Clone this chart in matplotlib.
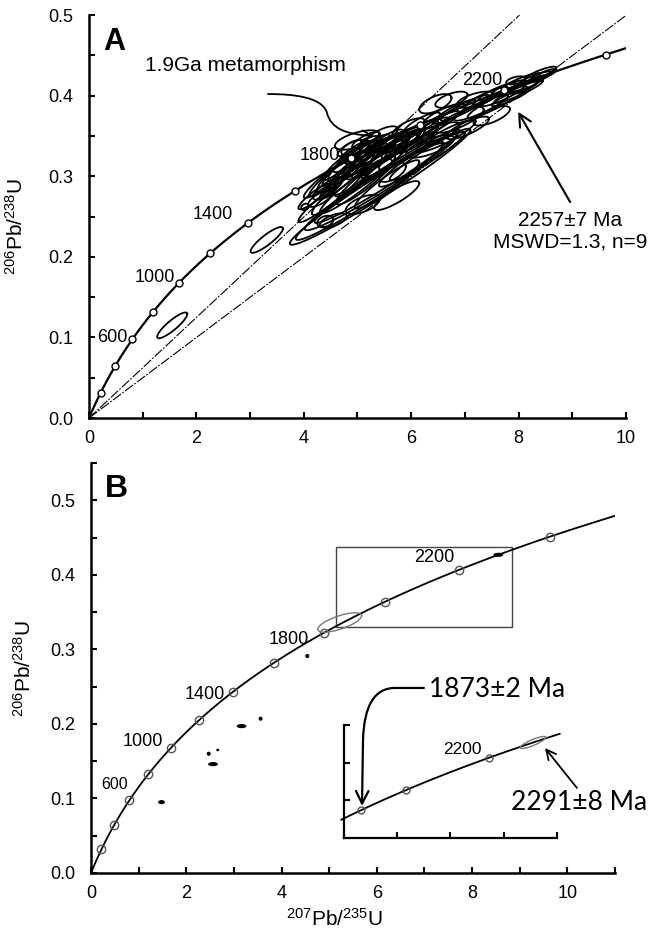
import numpy as np
import matplotlib
matplotlib.use("Agg")
import matplotlib.pyplot as plt
from matplotlib.path import Path
from matplotlib.patches import FancyArrowPatch, Rectangle
from matplotlib.ticker import MultipleLocator, FormatStrFormatter

plt.rcParams["font.family"] = ["Liberation Sans", "DejaVu Sans"]
plt.rcParams["mathtext.default"] = "regular"

# decay constants (per Ma)
L238 = 1.55125e-4
L235 = 9.8485e-4

# ---------------- data ----------------
# concordia age marks (Ma)
marker_ages = [200, 400, 600, 800, 1000, 1200, 1400, 1600, 1800, 2000, 2200, 2400]
label_ages = [600, 1000, 1400, 1800, 2200]
# discordia upper intercepts drawn through the origin (Ma)
discordia_ages = [1900, 2290]

# panel A zircon analyses: 207Pb/235U, +-, 206Pb/238U, +-, rho
a_x = [1.55, 3.31, 5.42, 5.35, 5.31, 5.55, 4.55, 4.40, 4.02, 5.10,
       5.73, 5.00, 4.60, 4.75, 4.90, 5.05, 5.20, 5.35, 5.50, 5.15,
       4.85, 4.45, 4.70, 5.60, 5.80, 5.45, 5.90, 6.05, 6.35, 6.20,
       6.45, 6.60, 6.90, 7.20, 7.50, 7.30, 7.70, 7.95, 8.40, 8.00,
       7.85, 8.20, 8.10, 6.75, 6.00, 6.30, 5.40, 5.25, 4.95, 5.65,
       5.95, 6.55, 4.30, 5.55, 7.05, 6.65, 8.45, 7.60,
       4.55, 4.70, 4.80, 4.95, 5.05, 5.10, 5.25, 5.30, 5.45, 5.60,
       5.70, 5.85, 4.40, 4.95, 5.15, 4.85, 5.55, 6.10, 6.25, 6.50,
       6.80, 7.00, 7.40, 7.60, 7.80, 8.05, 8.30, 4.20, 4.50, 5.00]
a_sx = [0.28, 0.30, 1.68, 1.50, 1.29, 1.35, 0.25, 0.15, 0.07, 0.32,
        0.42, 0.42, 0.35, 0.40, 0.45, 0.50, 0.35, 0.40, 0.45, 0.55,
        0.30, 0.28, 0.55, 0.38, 0.40, 0.30, 0.50, 0.45, 0.45, 0.35,
        0.30, 0.40, 0.45, 0.35, 0.34, 0.50, 0.40, 0.18, 0.30, 0.45,
        0.35, 0.30, 0.25, 0.30, 0.60, 0.70, 0.25, 0.20, 0.25, 0.25,
        0.30, 0.35, 0.22, 0.60, 0.40, 0.55, 0.25, 0.55,
        0.45, 0.35, 0.50, 0.40, 0.35, 0.60, 0.45, 0.30, 0.55, 0.35,
        0.50, 0.40, 0.40, 0.30, 0.25, 0.22, 0.30, 0.40, 0.45, 0.40,
        0.40, 0.45, 0.40, 0.35, 0.30, 0.35, 0.30, 0.30, 0.60, 0.70]
a_y = [0.115, 0.221, 0.287, 0.287, 0.287, 0.300, 0.245, 0.244, 0.262, 0.265,
       0.276, 0.345, 0.300, 0.310, 0.318, 0.305, 0.325, 0.332, 0.320, 0.295,
       0.290, 0.285, 0.282, 0.340, 0.345, 0.350, 0.330, 0.352, 0.337, 0.365,
       0.390, 0.375, 0.370, 0.395, 0.375, 0.385, 0.400, 0.419, 0.427, 0.405,
       0.398, 0.415, 0.410, 0.395, 0.315, 0.325, 0.310, 0.340, 0.335, 0.305,
       0.360, 0.355, 0.272, 0.290, 0.360, 0.350, 0.425, 0.392,
       0.300, 0.315, 0.300, 0.325, 0.315, 0.320, 0.318, 0.338, 0.325, 0.330,
       0.335, 0.340, 0.295, 0.330, 0.345, 0.335, 0.345, 0.345, 0.355, 0.365,
       0.380, 0.385, 0.398, 0.405, 0.410, 0.418, 0.422, 0.275, 0.275, 0.290]
a_sy = [0.016, 0.016, 0.072, 0.066, 0.054, 0.058, 0.009, 0.007, 0.004, 0.012,
        0.018, 0.012, 0.020, 0.022, 0.024, 0.028, 0.016, 0.018, 0.022, 0.030,
        0.015, 0.014, 0.030, 0.015, 0.016, 0.012, 0.022, 0.018, 0.014, 0.014,
        0.012, 0.015, 0.016, 0.010, 0.012, 0.016, 0.013, 0.005, 0.009, 0.014,
        0.011, 0.010, 0.008, 0.010, 0.028, 0.030, 0.012, 0.010, 0.010, 0.012,
        0.012, 0.012, 0.010, 0.030, 0.014, 0.020, 0.008, 0.020,
        0.025, 0.020, 0.028, 0.020, 0.018, 0.030, 0.022, 0.014, 0.028, 0.016,
        0.024, 0.018, 0.022, 0.014, 0.010, 0.010, 0.013, 0.017, 0.018, 0.016,
        0.015, 0.016, 0.013, 0.011, 0.009, 0.010, 0.008, 0.016, 0.032, 0.036]
a_rho = [0.88, 0.88, 0.978, 0.975, 0.97, 0.975, 0.6, 0.3, 0.3, 0.6,
         0.85, 0.6, 0.85, 0.9, 0.9, 0.92, 0.85, 0.85, 0.9, 0.92,
         0.7, 0.8, 0.93, 0.8, 0.8, 0.7, 0.9, 0.85, 0.7, 0.8,
         0.6, 0.8, 0.8, 0.6, 0.7, 0.9, 0.9, 0.5, 0.85, 0.93,
         0.9, 0.9, 0.85, 0.6, 0.93, 0.95, 0.6, 0.5, 0.5, 0.6,
         0.7, 0.7, 0.7, 0.93, 0.8, 0.9, 0.85, 0.93,
         0.93, 0.92, 0.94, 0.9, 0.9, 0.95, 0.92, 0.85, 0.94, 0.88,
         0.93, 0.9, 0.93, 0.85, 0.8, 0.8, 0.85, 0.9, 0.9, 0.9,
         0.9, 0.92, 0.9, 0.9, 0.88, 0.9, 0.9, 0.9, 0.95, 0.95]

# panel B: tiny analyses (207/235, +-, 206/238, +-)
b_x = [1.48, 2.47, 2.56, 2.66, 3.16, 3.56, 4.54, 8.55]
b_sx = [0.06, 0.03, 0.09, 0.02, 0.09, 0.03, 0.03, 0.09]
b_y = [0.095, 0.160, 0.146, 0.165, 0.197, 0.207, 0.291, 0.4268]
b_sy = [0.002, 0.002, 0.002, 0.001, 0.002, 0.002, 0.002, 0.002]

# grey analysis ellipses: (207/235, +-, 206/238, +-, rho)
b_grey = (5.22, 0.46, 0.336, 0.013, 0.7)
inset_grey = (8.548, 0.24, 0.4268, 0.008, 0.85)
inset_ages = [1873, 2000, 2200]
zoom_box = (5.15, 8.83, 0.330, 0.4375)


def concordia(t):
    t = np.asarray(t, dtype=float)
    return np.expm1(L235 * t), np.expm1(L238 * t)


def ellipse_xy(x, sx, y, sy, rho, n=120):
    th = np.linspace(0, 2 * np.pi, n)
    ex = x + sx * np.cos(th)
    ey = y + sy * (rho * np.cos(th) + np.sqrt(1 - rho ** 2) * np.sin(th))
    return ex, ey


def style_axis(ax, xmax, ymax, xmajor, ymajor):
    for s in ("top", "right"):
        ax.spines[s].set_visible(False)
    for s in ("left", "bottom"):
        ax.spines[s].set_linewidth(1.8)
    ax.set_xlim(0, xmax)
    ax.set_ylim(0, ymax)
    ax.xaxis.set_major_locator(MultipleLocator(xmajor))
    ax.xaxis.set_minor_locator(MultipleLocator(xmajor / 2))
    ax.yaxis.set_major_locator(MultipleLocator(ymajor))
    ax.yaxis.set_minor_locator(MultipleLocator(ymajor / 2))
    ax.xaxis.set_major_formatter(FormatStrFormatter("%d"))
    ax.yaxis.set_major_formatter(FormatStrFormatter("%.1f"))
    ax.tick_params(which="both", direction="in", length=4, width=1.5)
    ax.tick_params(axis="x", pad=8.5, labelsize=13)
    ax.tick_params(axis="y", pad=11.5, labelsize=13)


fig = plt.figure(figsize=(6.52, 9.30), dpi=100)
axA = fig.add_axes([0.1365, 0.5505, 0.8236, 0.4333])
axB = fig.add_axes([0.1396, 0.0613, 0.8037, 0.4409])

# ---------------- panel A ----------------
style_axis(axA, 10, 0.5, 2, 0.1)
t_end = np.log(11) / L235
cx, cy = concordia(np.linspace(0, t_end, 400))
axA.plot(cx, cy, color="k", lw=1.6, zorder=3)

for age in discordia_ages:
    dx, dy = concordia(age)
    slope = dy / dx
    xe = 0.5 / slope
    axA.plot([0, xe], [0, 0.5], color="k", lw=0.8,
             ls=(0, (9, 1.5, 1.5, 1.5)), zorder=2)

for i in range(len(a_x)):
    ex, ey = ellipse_xy(a_x[i], a_sx[i], a_y[i], a_sy[i], a_rho[i])
    axA.plot(ex, ey, color="k", lw=1.3, zorder=4)

mx, my = concordia(marker_ages)
axA.plot(mx, my, "o", ms=5, mfc="white", mec="k", mew=1.0, zorder=6)

a_label_pos = {600: (0.44, 0.100), 1000: (1.23, 0.174), 1400: (2.31, 0.252),
               1800: (4.30, 0.326), 2200: (7.32, 0.419)}
for age in label_ages:
    px, py = a_label_pos[age]
    axA.text(px, py, str(age), fontsize=13, ha="center", va="center", zorder=7)

axA.text(0.026, 0.913, "A", transform=axA.transAxes, fontsize=22,
         fontweight="bold", ha="left", va="baseline")
axA.text(2.92, 0.437, "1.9Ga metamorphism", fontsize=15, ha="center", va="center")

meta_path = Path([(3.333, 0.402), (3.83, 0.402), (4.34, 0.398), (4.43, 0.379),
                  (4.51, 0.359), (4.77, 0.352), (5.31, 0.350)],
                 [Path.MOVETO, Path.CURVE4, Path.CURVE4, Path.CURVE4,
                  Path.CURVE4, Path.CURVE4, Path.CURVE4])
axA.add_patch(FancyArrowPatch(path=meta_path, arrowstyle="->,head_length=7,head_width=3.5",
                              lw=1.3, color="k", zorder=8))

axA.text(8.96, 0.232, "2257±7 Ma\nMSWD=1.3, n=9", fontsize=15, ha="center",
         va="center", linespacing=1.15)
axA.annotate("", xy=(7.99, 0.380), xytext=(8.96, 0.268),
             arrowprops=dict(arrowstyle="->,head_length=0.9,head_width=0.45",
                             lw=1.5, color="k", shrinkA=0, shrinkB=0))

axA.set_xlabel(r"$^{207}$Pb/$^{235}$U", fontsize=15)
axA.xaxis.set_label_coords(0.482, -0.125)
axA.set_ylabel(r"$^{206}$Pb/$^{238}$U", fontsize=15)
axA.yaxis.set_label_coords(-0.115, 0.476)

# ---------------- panel B ----------------
style_axis(axB, 11, 0.55, 2, 0.1)
t_end = np.log(12) / L235
cx, cy = concordia(np.linspace(0, t_end, 400))
axB.plot(cx, cy, color="k", lw=1.3, zorder=3)
axB.plot(mx, my, "o", ms=6, mfc="none", mec="#555555", mew=1.0, zorder=4)

ex, ey = ellipse_xy(*b_grey)
axB.plot(ex, ey, color="#777777", lw=1.0, zorder=4)
for i in range(len(b_x)):
    ex, ey = ellipse_xy(b_x[i], b_sx[i], b_y[i], b_sy[i], 0.0)
    axB.fill(ex, ey, color="k", lw=0.8, zorder=4)

x0, x1, y0, y1 = zoom_box
axB.add_patch(Rectangle((x0, y0), x1 - x0, y1 - y0, fill=False,
                        ec="#444444", lw=1.0, zorder=2))

b_label_pos = {600: (0.50, 0.119), 1000: (1.09, 0.177), 1400: (2.38, 0.239),
               1800: (4.16, 0.313), 2200: (7.20, 0.423)}
for age in label_ages:
    px, py = b_label_pos[age]
    axB.text(px, py, str(age), fontsize=11.5 if age == 600 else 13,
             ha="center", va="center", zorder=7)

axB.text(0.027, 0.917, "B", transform=axB.transAxes, fontsize=23,
         fontweight="bold", ha="left", va="baseline")
axB.set_xlabel(r"$^{207}$Pb/$^{235}$U", fontsize=15)
axB.xaxis.set_label_coords(0.464, -0.085)
axB.set_ylabel(r"$^{206}$Pb/$^{238}$U", fontsize=15)
axB.yaxis.set_label_coords(-0.107, 0.5)

# ---------------- inset ----------------
axI = fig.add_axes([0.5276, 0.0989, 0.3267, 0.1215])
axI.patch.set_alpha(0)
for s in ("top", "right"):
    axI.spines[s].set_visible(False)
for s in ("left", "bottom"):
    axI.spines[s].set_linewidth(1.6)
axI.set_xlim(5, 9)
axI.set_ylim(0.30, 0.45)
axI.set_xticks([6, 7, 8, 9])
axI.set_yticks([0.35, 0.40, 0.45])
axI.tick_params(direction="in", length=4, width=1.5, labelbottom=False, labelleft=False)

t0 = np.log(5.95) / L235
t1 = np.log(10.05) / L235
ix, iy = concordia(np.linspace(t0, t1, 200))
axI.plot(ix, iy, color="k", lw=1.3, clip_on=False)
gx, gy = concordia(inset_ages)
axI.plot(gx, gy, "o", ms=5, mfc="none", mec="#555555", mew=1.0, clip_on=False)
ex, ey = ellipse_xy(*inset_grey)
axI.plot(ex, ey, color="#777777", lw=1.0, clip_on=False)
axI.text(7.216, 0.417, "2200", fontsize=12.5, ha="center", va="center")

lato = ["Lato", "DejaVu Sans"]
axI.text(7.873, 0.4965, "1873±2 Ma", fontsize=19, family=lato,
         ha="center", va="center", clip_on=False)
axI.text(9.41, 0.3465, "2291±8 Ma", fontsize=19, family=lato,
         ha="center", va="center", clip_on=False)

arrow_1873 = Path([(6.50, 0.4992), (5.958, 0.4992), (5.582, 0.4992), (5.376, 0.4766),
                   (5.357, 0.4301), (5.338, 0.3425)],
                  [Path.MOVETO, Path.LINETO, Path.CURVE4, Path.CURVE4,
                   Path.CURVE4, Path.LINETO])
axI.add_patch(FancyArrowPatch(path=arrow_1873, arrowstyle="->,head_length=9,head_width=4.5",
                              lw=1.6, color="k", clip_on=False))
axI.annotate("", xy=(8.775, 0.4195), xytext=(9.375, 0.3664),
             arrowprops=dict(arrowstyle="->,head_length=0.7,head_width=0.35",
                             lw=1.3, color="k", shrinkA=0, shrinkB=0),
             annotation_clip=False)

fig.savefig("out.png", dpi=100)
